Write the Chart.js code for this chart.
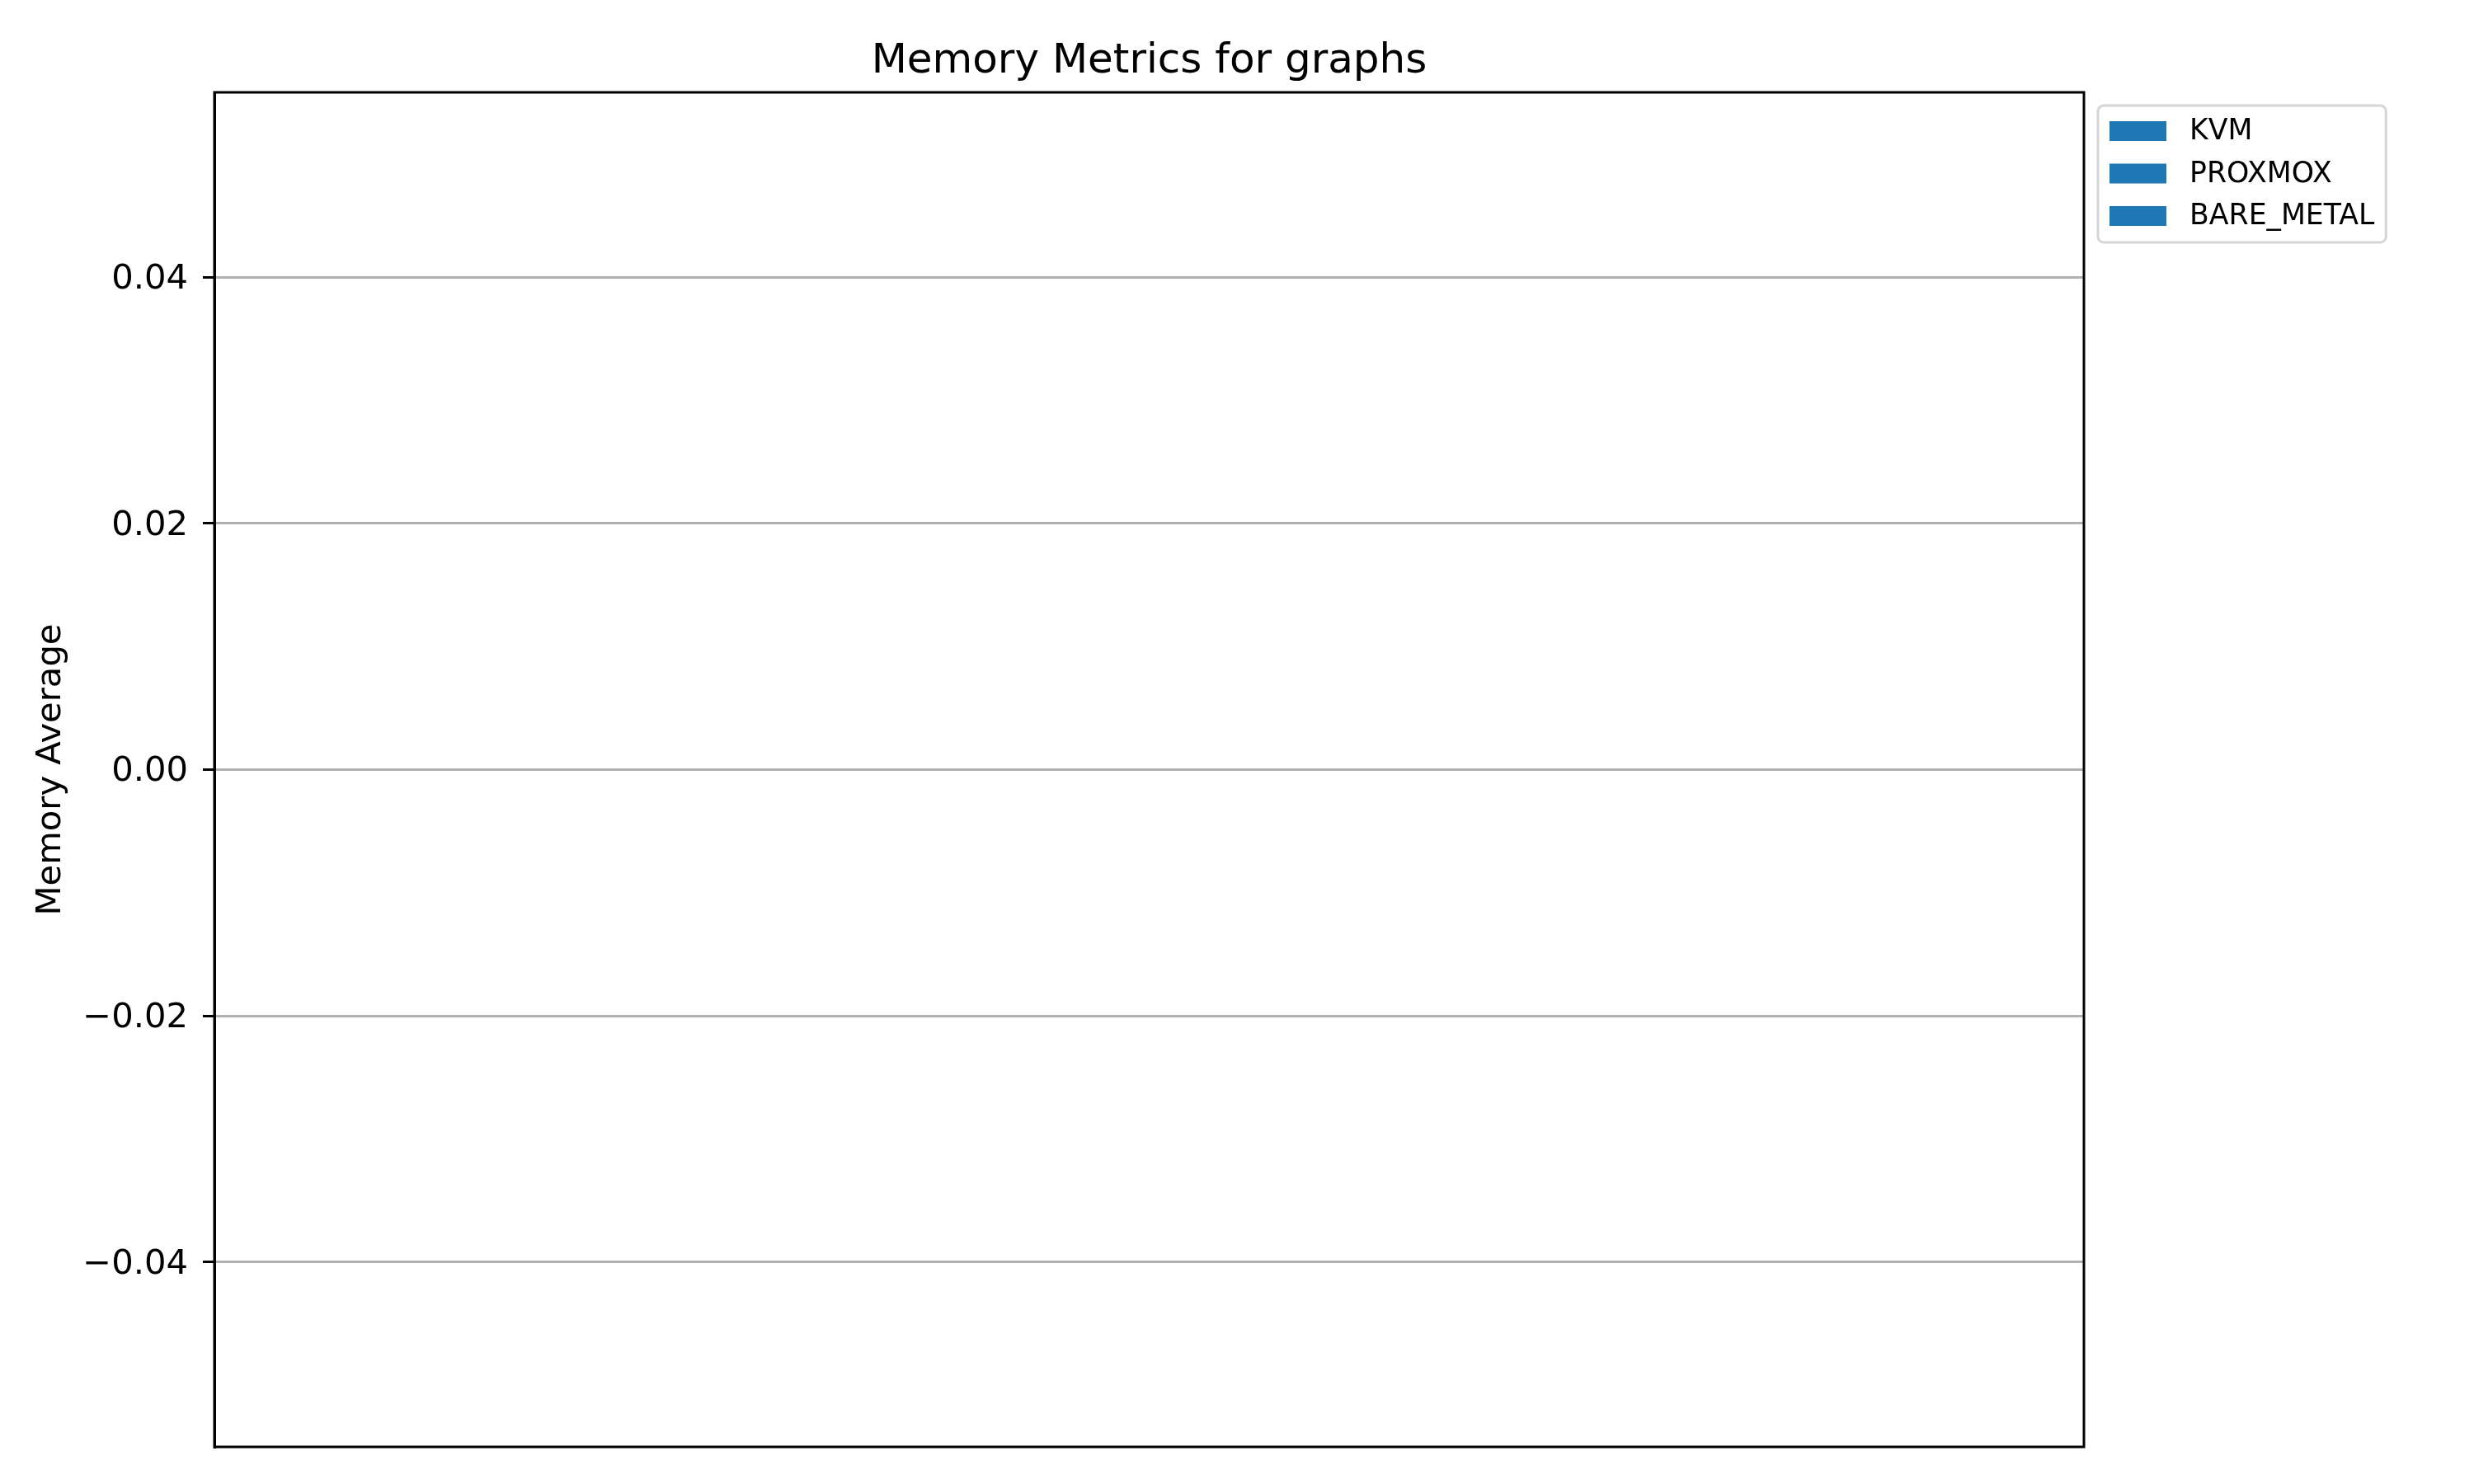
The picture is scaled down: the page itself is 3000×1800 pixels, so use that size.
<!DOCTYPE html>
<html>
<head>
<meta charset="utf-8">
<script src="https://cdn.jsdelivr.net/npm/chart.js@4"></script>
<style>
  html, body { margin: 0; padding: 0; background: #ffffff; }
  #wrap { width: 3000px; height: 1800px; }
</style>
</head>
<body>
<div id="wrap"><canvas id="c" width="3000" height="1800"></canvas></div>
<script>
// ---- data ----
const categories = [];
const seriesNames = ['KVM', 'PROXMOX', 'BARE_METAL'];
const kvmValues = [];
const proxmoxValues = [];
const bareMetalValues = [];
const yTickValues = [-0.04, -0.02, 0.00, 0.02, 0.04];
const titleText = 'Memory Metrics for graphs';
const yAxisLabel = 'Memory Average';

const FONT = '"DejaVu Sans", sans-serif';
const BLUE = '#1f77b4';

const overlay = {
  id: 'overlay',
  afterDraw(chart) {
    const ctx = chart.ctx;
    const a = chart.chartArea;
    ctx.save();
    // frame
    ctx.strokeStyle = '#000000';
    ctx.lineWidth = 3;
    ctx.strokeRect(a.left, a.top, a.right - a.left, a.bottom - a.top);
    // title
    ctx.fillStyle = '#000000';
    ctx.font = '50px ' + FONT;
    ctx.textAlign = 'center';
    ctx.textBaseline = 'alphabetic';
    ctx.fillText(chart.options.plugins.customTitle.text, (a.left + a.right) / 2, 88);
    // legend
    const ds = chart.data.datasets;
    ctx.font = '34.7px ' + FONT;
    let maxW = 0;
    ds.forEach(d => { maxW = Math.max(maxW, ctx.measureText(d.label).width); });
    const bx = 2544, by = 128;
    const textX = 2655;
    const bw = (textX + maxW + 14) - bx;
    const bh = 166;
    const r = 7;
    ctx.beginPath();
    ctx.moveTo(bx + r, by);
    ctx.lineTo(bx + bw - r, by);
    ctx.arcTo(bx + bw, by, bx + bw, by + r, r);
    ctx.lineTo(bx + bw, by + bh - r);
    ctx.arcTo(bx + bw, by + bh, bx + bw - r, by + bh, r);
    ctx.lineTo(bx + r, by + bh);
    ctx.arcTo(bx, by + bh, bx, by + bh - r, r);
    ctx.lineTo(bx, by + r);
    ctx.arcTo(bx, by, bx + r, by, r);
    ctx.closePath();
    ctx.fillStyle = 'rgba(255,255,255,0.8)';
    ctx.fill();
    ctx.strokeStyle = '#d6d6d6';
    ctx.lineWidth = 3;
    ctx.stroke();
    ds.forEach((d, i) => {
      const cy = 159 + i * 51.5;
      ctx.fillStyle = d.backgroundColor;
      ctx.fillRect(2558, cy - 12, 69, 24);
      ctx.fillStyle = '#000000';
      ctx.textAlign = 'left';
      ctx.textBaseline = 'middle';
      ctx.fillText(d.label, textX, cy + 1);
    });
    ctx.restore();
  }
};

const fmt = v => {
  const s = Math.abs(v).toFixed(2);
  return (v < -1e-12 ? '\u2212' : '') + s;
};

new Chart(document.getElementById('c'), {
  type: 'bar',
  data: {
    labels: categories,
    datasets: [
      { label: seriesNames[0], data: kvmValues, backgroundColor: BLUE },
      { label: seriesNames[1], data: proxmoxValues, backgroundColor: BLUE },
      { label: seriesNames[2], data: bareMetalValues, backgroundColor: BLUE }
    ]
  },
  options: {
    responsive: false,
    animation: false,
    devicePixelRatio: 1,
    layout: { padding: { top: 112, right: 473, bottom: 45, left: 0 } },
    plugins: {
      legend: { display: false },
      title: { display: false },
      tooltip: { enabled: false },
      customTitle: { text: titleText }
    },
    scales: {
      x: { display: false },
      y: {
        min: -0.055,
        max: 0.055,
        afterBuildTicks: (scale) => { scale.ticks = yTickValues.map(v => ({ value: v })); },
        afterFit: (scale) => { scale.width = 260; },
        ticks: {
          color: '#000000',
          font: { family: FONT, size: 41.7 },
          padding: 18,
          labelOffset: 3,
          callback: (v) => fmt(v)
        },
        grid: {
          color: '#b0b0b0',
          lineWidth: 3,
          tickLength: 14,
          tickColor: '#000000',
          tickWidth: 3,
          drawOnChartArea: true
        },
        border: { display: true, color: '#000000', width: 3 },
        title: {
          display: true,
          text: yAxisLabel,
          color: '#000000',
          font: { family: FONT, size: 41.7 },
          padding: { top: 37, bottom: 0 }
        }
      }
    }
  },
  plugins: [overlay]
});
</script>
</body>
</html>
